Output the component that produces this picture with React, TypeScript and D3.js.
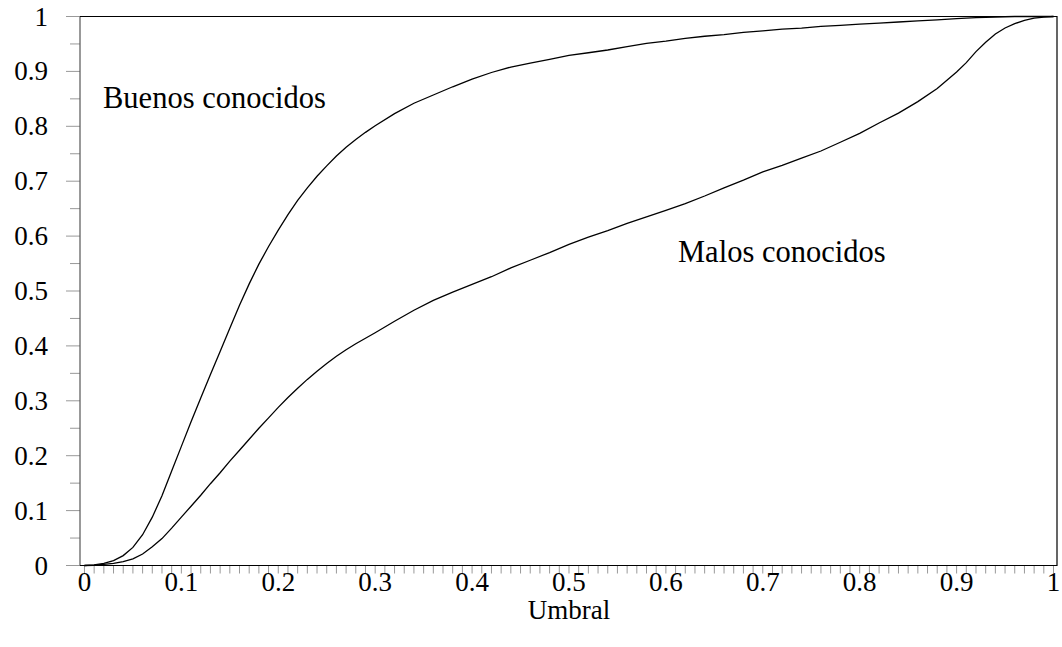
import React from 'react';
import * as d3 from 'd3';

// umbral (threshold) values
const umbral = [
  0, 0.01, 0.02, 0.03, 0.04, 0.05, 0.06, 0.07, 0.08, 0.09, 0.1, 0.11, 0.12, 0.13, 0.14, 0.15,
  0.16, 0.17, 0.18, 0.19, 0.2, 0.21, 0.22, 0.23, 0.24, 0.25, 0.26, 0.27, 0.28, 0.29, 0.3,
  0.32, 0.34, 0.36, 0.38, 0.4, 0.42, 0.44, 0.46, 0.48, 0.5, 0.52, 0.54, 0.56, 0.58, 0.6,
  0.62, 0.64, 0.66, 0.68, 0.7, 0.72, 0.74, 0.76, 0.78, 0.8, 0.82, 0.84, 0.86, 0.88, 0.9,
  0.91, 0.92, 0.93, 0.94, 0.95, 0.96, 0.97, 0.98, 0.99, 1,
];

const buenos = [
  0, 0.001, 0.004, 0.009, 0.018, 0.033, 0.056, 0.088, 0.127, 0.172, 0.217, 0.262, 0.305, 0.348, 0.39, 0.432,
  0.474, 0.513, 0.549, 0.581, 0.611, 0.639, 0.665, 0.688, 0.709, 0.728, 0.746, 0.762, 0.776, 0.789, 0.801,
  0.823, 0.842, 0.857, 0.872, 0.886, 0.898, 0.908, 0.915, 0.922, 0.929, 0.934, 0.939, 0.945, 0.951, 0.955,
  0.96, 0.964, 0.967, 0.971, 0.974, 0.977, 0.979, 0.982, 0.984, 0.986, 0.988, 0.99, 0.992, 0.994, 0.996,
  0.997, 0.998, 0.9985, 0.999, 0.9995, 1, 1, 1, 1, 1,
];

const malos = [
  0, 0.0005, 0.002, 0.004, 0.007, 0.012, 0.021, 0.034, 0.049, 0.068, 0.088, 0.108, 0.128, 0.149, 0.169, 0.19,
  0.21, 0.23, 0.25, 0.269, 0.288, 0.306, 0.323, 0.339, 0.354, 0.368, 0.381, 0.393, 0.404, 0.414, 0.424,
  0.445, 0.465, 0.483, 0.498, 0.512, 0.526, 0.542, 0.556, 0.57, 0.585, 0.598, 0.61, 0.623, 0.635, 0.647,
  0.659, 0.673, 0.688, 0.702, 0.717, 0.729, 0.742, 0.755, 0.771, 0.787, 0.806, 0.824, 0.845, 0.869, 0.899,
  0.916, 0.936, 0.953, 0.968, 0.979, 0.987, 0.993, 0.997, 0.999, 1,
];

const tickLabels = ['0', '0.1', '0.2', '0.3', '0.4', '0.5', '0.6', '0.7', '0.8', '0.9', '1'];

const W = 1062;
const H = 647;
const left = 80, right = 1057, top = 16.5, bottom = 565.5;
const font = '"Liberation Serif", "DejaVu Serif", serif';

export default function App() {
  const x = d3.scaleLinear().domain([-0.0046, 1.0036]).range([left, right]);
  const y = d3.scaleLinear().domain([0, 1]).range([bottom, top]);

  const line = d3.line<number>()
    .x((_, i) => x(umbral[i]))
    .y(d => y(d));

  const xTicks = d3.range(0, 101).map(i => i / 100);
  const yMinor = d3.range(0, 21).map(i => i / 20);

  return (
    <svg width={W} height={H} style={{ position: 'absolute', left: 0, top: 0, background: '#fff' }}>
      {/* ticks */}
      <g stroke="#999" strokeWidth={1}>
        {xTicks.map(t => (
          <line key={'x' + t} x1={x(t)} x2={x(t)} y1={bottom} y2={bottom + 8} />
        ))}
        {yMinor.map((t, i) => (
          <line key={'y' + i} x1={i % 2 === 0 ? left - 14 : left - 10} x2={left} y1={y(t)} y2={y(t)} />
        ))}
      </g>
      {/* frame */}
      <line x1={left} x2={left} y1={top} y2={bottom} stroke="#555" strokeWidth={1.2} />
      <path d={`M${left},${top}H${right}V${bottom}H${left}`} fill="none" stroke="#000" strokeWidth={1.2} />

      {/* curves */}
      <path d={line(buenos) || ''} fill="none" stroke="#000" strokeWidth={1.3} />
      <path d={line(malos) || ''} fill="none" stroke="#000" strokeWidth={1.3} />

      {/* tick labels */}
      <g fontFamily={font} fontSize={27} fill="#000">
        {tickLabels.map((lab, i) => (
          <text key={'xl' + i} x={x(i / 10)} y={591} textAnchor="middle">{lab}</text>
        ))}
        {tickLabels.map((lab, i) => (
          <text key={'yl' + i} x={48} y={y(i / 10) + 9} textAnchor="end">{lab}</text>
        ))}
        <text x={x(0.5)} y={619} textAnchor="middle">Umbral</text>
      </g>

      <g fontFamily={font} fontSize={30.5} fill="#000">
        <text x={103} y={108}>Buenos conocidos</text>
        <text x={678} y={262}>Malos conocidos</text>
      </g>
    </svg>
  );
}
